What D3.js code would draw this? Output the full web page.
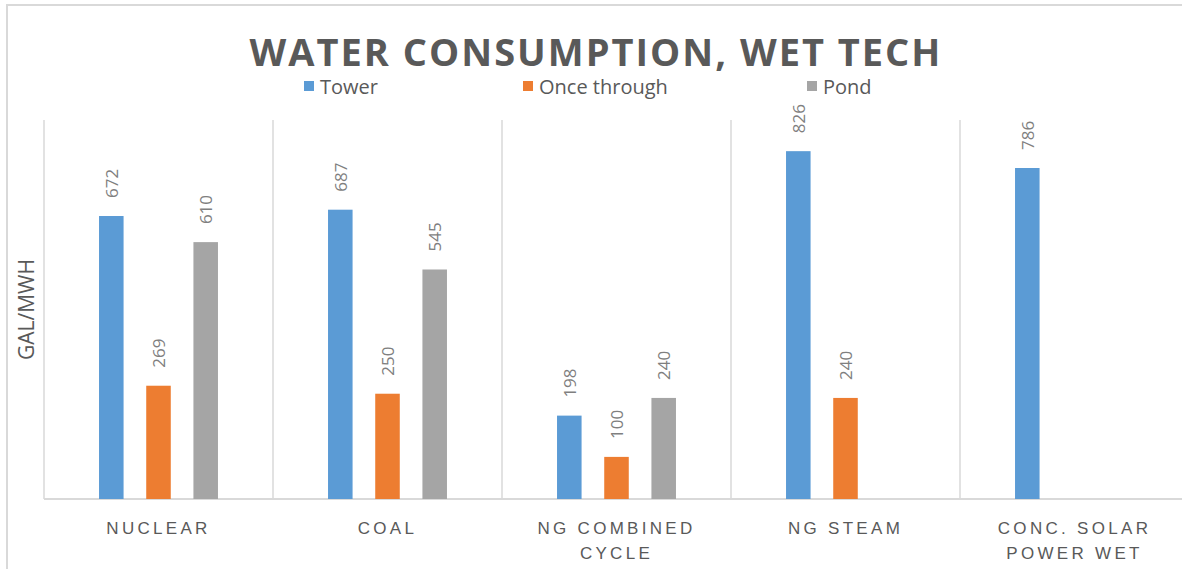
<!DOCTYPE html>
<html>
<head>
<meta charset="utf-8">
<script src="https://cdn.jsdelivr.net/npm/d3@7"></script>
<style>
  html, body { margin: 0; padding: 0; background: #fff; }
  svg { display: block; font-family: "Open Sans", "Noto Sans", sans-serif; }
</style>
</head>
<body>
<svg id="chart" width="1182" height="569"></svg>
<script>
// Water consumption by generation technology (gal/MWh), wet cooling
const categories = [["NUCLEAR"], ["COAL"], ["NG COMBINED", "CYCLE"], ["NG STEAM"], ["CONC. SOLAR", "POWER WET"]];
const seriesNames = ["Tower", "Once through", "Pond"];
const tower = [672, 687, 198, 826, 786];
const onceThrough = [269, 250, 100, 240, null];
const pond = [610, 545, 240, null, null];
const colors = ["#5B9BD5", "#ED7D31", "#A5A5A5"];
const yMax = 900;

const svg = d3.select("#chart");
const W = 1182, H = 569;
const plot = { left: 44, top: 120, bottom: 499, catWidth: 229 };

// outer chart frame
svg.append("rect")
  .attr("x", 7).attr("y", 5)
  .attr("width", W + 10).attr("height", H + 10)
  .attr("fill", "none").attr("stroke", "#D9D9D9").attr("stroke-width", 2);

const catKeys = categories.map((c, i) => i);
const x0 = d3.scaleBand()
  .domain(catKeys)
  .range([plot.left, plot.left + plot.catWidth * categories.length])
  .paddingInner(0).paddingOuter(0);

const x1 = d3.scaleBand()
  .domain(d3.range(seriesNames.length))
  .range([0, x0.bandwidth()])
  .paddingInner(0.48).paddingOuter(1.166);

const y = d3.scaleLinear().domain([0, yMax]).range([plot.bottom, plot.top]);

// vertical category separators
const seps = d3.range(categories.length + 1).map(i => plot.left + i * x0.step());
svg.append("g").selectAll("line").data(seps).join("line")
  .attr("x1", d => d).attr("x2", d => d)
  .attr("y1", y(yMax)).attr("y2", y(0))
  .attr("stroke", "#D9D9D9").attr("stroke-width", 1.5);

// category axis
const xAxis = d3.axisBottom(x0).tickSize(0).tickFormat("");
const axisG = svg.append("g").attr("transform", `translate(0,${y(0)})`).call(xAxis);
axisG.select(".domain").attr("stroke", "#D9D9D9").attr("stroke-width", 2)
  .attr("d", `M${plot.left},0H${W + 20}`);

axisG.selectAll(".tick").each(function (d) {
  const t = d3.select(this).append("text")
    .attr("fill", "#595959")
    .attr("font-size", 17)
    .attr("letter-spacing", "3.3px")
    .attr("text-anchor", "middle");
  categories[d].forEach((line, k) => {
    t.append("tspan").attr("x", 0).attr("y", 35 + k * 25).text(line);
  });
});

// bars
const seriesData = [tower, onceThrough, pond];
const rows = [];
seriesData.forEach((vals, s) => vals.forEach((v, c) => {
  if (v != null) rows.push({ s, c, v });
}));

svg.append("g").selectAll("rect").data(rows).join("rect")
  .attr("x", d => x0(d.c) + x1(d.s))
  .attr("width", x1.bandwidth())
  .attr("y", d => y(d.v))
  .attr("height", d => y(0) - y(d.v))
  .attr("fill", d => colors[d.s]);

// value labels, rotated above bars
svg.append("g").selectAll("text").data(rows).join("text")
  .attr("transform", d => `translate(${x0(d.c) + x1(d.s) + x1.bandwidth() / 2},${y(d.v) - 18}) rotate(-90)`)
  .attr("dominant-baseline", "central")
  .attr("text-anchor", "start")
  .attr("fill", "#7F7F7F")
  .attr("font-size", 17)
  .text(d => d.v);

// y-axis title
svg.append("text")
  .attr("transform", `translate(26,${(plot.top + plot.bottom) / 2}) rotate(-90)`)
  .attr("text-anchor", "middle")
  .attr("dominant-baseline", "central")
  .attr("fill", "#595959")
  .attr("font-size", 21)
  .text("GAL/MWH");

// chart title
svg.append("text")
  .attr("x", 596).attr("y", 66)
  .attr("text-anchor", "middle")
  .attr("fill", "#595959")
  .attr("font-size", 38)
  .attr("font-weight", "bold")
  .attr("letter-spacing", "2px")
  .text("WATER CONSUMPTION, WET TECH");

// legend
const legendX = [304, 523, 807];
const lg = svg.append("g").selectAll("g").data(seriesNames).join("g")
  .attr("transform", (d, i) => `translate(${legendX[i]},86)`);
lg.append("rect").attr("x", 0).attr("y", -5).attr("width", 10).attr("height", 10)
  .attr("fill", (d, i) => colors[i]);
lg.append("text").attr("x", 16).attr("y", 0)
  .attr("dominant-baseline", "central")
  .attr("fill", "#595959").attr("font-size", 20)
  .text(d => d);
</script>
</body>
</html>
